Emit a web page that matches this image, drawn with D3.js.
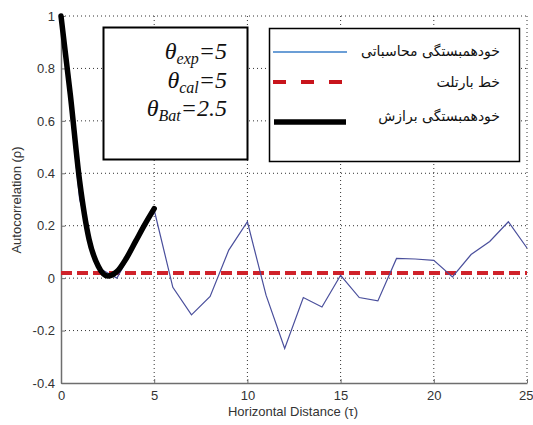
<!DOCTYPE html>
<html><head><meta charset="utf-8">
<script src="https://cdn.jsdelivr.net/npm/d3@7"></script>
<style>body{margin:0;background:#fff}svg{display:block}</style>
</head><body>
<svg id="c" width="533" height="425"></svg>
<script>
// ---- data ----
const lags = [0,1,2,3,4,5,6,7,8,9,10,11,12,13,14,15,16,17,18,19,20,21,22,23,24,25];
const calcAuto = [1.0,0.30,0.04,0.0,0.13,0.26,-0.035,-0.14,-0.07,0.107,0.215,-0.065,-0.268,-0.074,-0.11,0.011,-0.074,-0.087,0.075,0.073,0.068,0.005,0.09,0.14,0.215,0.115];
const fitLags = [0,0.5,1,1.5,2,2.5,3,3.5,4,4.5,5];
const fitAuto = [1.0,0.70,0.37,0.15,0.045,0.008,0.025,0.075,0.14,0.205,0.265];
const bartlett = 0.02;
const xTicks = [0,5,10,15,20,25];
const yTicks = [-0.4,-0.2,0,0.2,0.4,0.6,0.8,1];
const yTickLabels = ["-0.4","-0.2","0","0.2","0.4","0.6","0.8","1"];
const legendLabels = ["خودهمبستگی محاسباتی","خط بارتلت","خودهمبستگی برازش"];
const thetaLabels = [["exp","5"],["cal","5"],["Bat","2.5"]];

// ---- layout ----
const svg = d3.select("#c");
const L=61,R=527,T=16,B=383;
const x = d3.scaleLinear().domain([0,25]).range([L,R]);
const y = d3.scaleLinear().domain([-0.4,1]).range([B,T]);
const axisCol="#6e6e6e", textCol="#333";

// grid
const g = svg.append("g");
g.selectAll(".gx").data(xTicks.filter(d=>d>0)).join("line")
  .attr("x1",d=>x(d)).attr("x2",d=>x(d)).attr("y1",T).attr("y2",B)
  .attr("stroke","#333").attr("stroke-width",1).attr("stroke-dasharray","1,3");
g.selectAll(".gy").data(yTicks.filter(d=>d>-0.4)).join("line")
  .attr("y1",d=>y(d)).attr("y2",d=>y(d)).attr("x1",L).attr("x2",R)
  .attr("stroke","#333").attr("stroke-width",1).attr("stroke-dasharray","1,3");

// axes
const xAxis = d3.axisBottom(x).tickValues(xTicks).tickSizeInner(-4).tickSizeOuter(0).tickPadding(8);
const yAxis = d3.axisLeft(y).tickValues(yTicks).tickSizeInner(-4).tickSizeOuter(0).tickPadding(6)
  .tickFormat((d,i)=>yTickLabels[i]);
const gx = svg.append("g").attr("transform",`translate(0,${B})`).call(xAxis);
const gy = svg.append("g").attr("transform",`translate(${L},0)`).call(yAxis);
[gx,gy].forEach(a=>{
  a.select(".domain").attr("stroke",axisCol).attr("stroke-width",1.5);
  a.selectAll(".tick line").attr("stroke",axisCol);
  a.selectAll(".tick text").attr("fill",textCol).attr("font-family","Liberation Sans, Arial, sans-serif").attr("font-size",13);
});
gx.selectAll(".tick text").filter(d=>d===25).attr("text-anchor","end").attr("dx",6);

// series
svg.append("line").attr("x1",x(0)).attr("x2",x(25)).attr("y1",y(bartlett)).attr("y2",y(bartlett))
  .attr("stroke","#d0222a").attr("stroke-width",4).attr("stroke-dasharray","11,5");
svg.append("path").datum(lags.map((l,i)=>[l,calcAuto[i]]))
  .attr("d",d3.line().x(d=>x(d[0])).y(d=>y(d[1])))
  .attr("fill","none").attr("stroke","#4a4f9c").attr("stroke-width",1.2);
svg.append("path").datum(fitLags.map((l,i)=>[l,fitAuto[i]]))
  .attr("d",d3.line().x(d=>x(d[0])).y(d=>y(d[1])).curve(d3.curveMonotoneX))
  .attr("fill","none").attr("stroke","#000").attr("stroke-width",5.5).attr("stroke-linecap","round");

// theta box
svg.append("rect").attr("x",103.5).attr("y",27.5).attr("width",144).attr("height",132)
  .attr("fill","#fff").attr("stroke","#000").attr("stroke-width",2);
thetaLabels.forEach((t,i)=>{
  const tt = svg.append("text").attr("font-family","Liberation Serif, Times New Roman, serif")
    .attr("font-style","italic").attr("text-anchor","end").attr("fill","#111")
    .attr("x",227).attr("y",[59,88,116][i]).attr("font-size",24);
  tt.append("tspan").text("θ");
  tt.append("tspan").attr("font-size",16).attr("dy",5).text(t[0]);
  tt.append("tspan").attr("dy",-5).text("="+t[1]);
});

// legend
svg.append("rect").attr("x",269.5).attr("y",28.5).attr("width",250).attr("height",133)
  .attr("fill","#fff").attr("stroke","#000").attr("stroke-width",1.5);
const ly=[52,82,122];
svg.append("line").attr("x1",273).attr("x2",347).attr("y1",ly[0]).attr("y2",ly[0]).attr("stroke","#3a7ec8").attr("stroke-width",1.5);
svg.append("line").attr("x1",273).attr("x2",346).attr("y1",ly[1]).attr("y2",ly[1]).attr("stroke","#c8141c").attr("stroke-width",4).attr("stroke-dasharray","13,15");
svg.append("line").attr("x1",274).attr("x2",346).attr("y1",ly[2]).attr("y2",ly[2]).attr("stroke","#000").attr("stroke-width",5.5);
svg.selectAll(".lt").data(legendLabels).join("text")
  .attr("x",500).attr("y",(d,i)=>[56,87,121][i]).attr("text-anchor","end")
  .attr("font-family","DejaVu Sans, sans-serif").attr("font-size",14).attr("fill","#111")
  .text(d=>d);

// axis labels
svg.append("text").attr("x",293).attr("y",416).attr("text-anchor","middle")
  .attr("font-family","Liberation Sans, Arial, sans-serif").attr("font-size",13).attr("fill",textCol)
  .text("Horizontal Distance (τ)");
svg.append("text").attr("transform","translate(21,200) rotate(-90)").attr("text-anchor","middle")
  .attr("font-family","Liberation Sans, Arial, sans-serif").attr("font-size",13).attr("fill",textCol)
  .text("Autocorrelation (ρ)");
</script>
</body></html>
